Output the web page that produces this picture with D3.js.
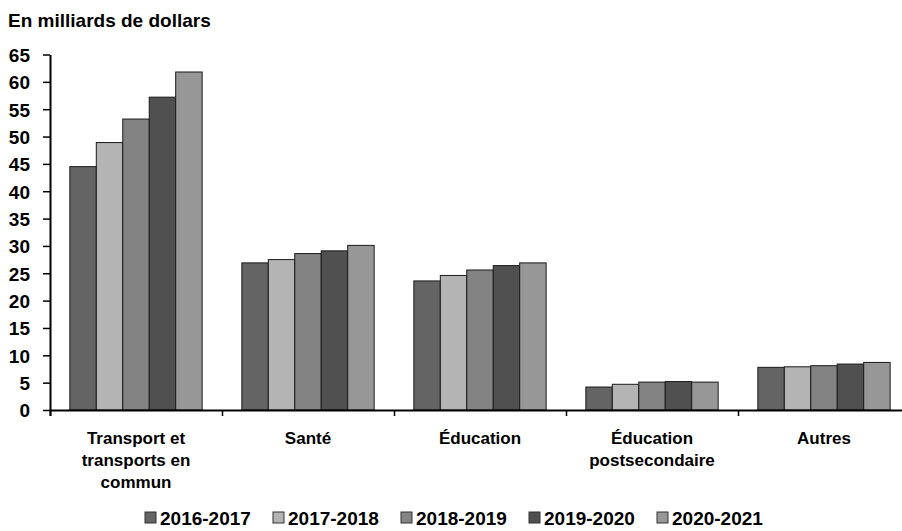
<!DOCTYPE html>
<html><head><meta charset="utf-8">
<script src="https://cdn.jsdelivr.net/npm/d3@7"></script>
<style>
body{margin:0;background:#fff;}
text{font-family:"Liberation Sans",Arial,sans-serif;font-weight:bold;fill:#000;}
</style></head>
<body><svg id="c" width="902" height="531"></svg>
<script>
const categories = [["Transport et","transports en","commun"],["Santé"],["Éducation"],["Éducation","postsecondaire"],["Autres"]];
const series = ["2016-2017","2017-2018","2018-2019","2019-2020","2020-2021"];
const values = [
  [44.5, 26.9, 23.6, 4.2, 7.8],
  [48.9, 27.5, 24.6, 4.7, 7.9],
  [53.2, 28.6, 25.6, 5.1, 8.1],
  [57.2, 29.1, 26.4, 5.2, 8.4],
  [61.8, 30.1, 26.9, 5.1, 8.7]
];
const colors = ["#646464","#b4b4b4","#838383","#505050","#979797"];
const yTicks = d3.range(0, 66, 5);
const yTitle = "En milliards de dollars";

const svg = d3.select("#c");
const x0 = d3.scaleBand().domain(d3.range(categories.length)).range([50, 910]).padding(0);
const x1 = d3.scaleBand().domain(d3.range(series.length)).range([0, x0.bandwidth()]).paddingOuter(0.75).paddingInner(0);
const y = d3.scaleLinear().domain([0, 65]).range([410, 54.5]);

series.forEach((s, si) => {
  svg.append("g").selectAll("rect").data(values[si]).join("rect")
    .attr("x", (d, ci) => x0(ci) + x1(si))
    .attr("y", d => y(d))
    .attr("width", x1.bandwidth())
    .attr("height", d => y(0) - y(d))
    .attr("fill", colors[si])
    .attr("stroke", "#1a1a1a")
    .attr("stroke-width", 1);
});

const yAxis = svg.append("g").attr("transform", "translate(50,0)")
  .call(d3.axisLeft(y).tickValues(yTicks).tickSize(7).tickPadding(13).tickSizeOuter(0));
yAxis.select(".domain").attr("stroke", "#000").attr("stroke-width", 2);
yAxis.selectAll(".tick line").attr("stroke", "#000").attr("stroke-width", 1.5);
yAxis.selectAll(".tick text").style("font-size", "19px").attr("font-family", null).attr("dy", "0.36em");

const xb = d3.scaleLinear().domain([0, categories.length]).range([50, 910]);
const xAxis = svg.append("g").attr("transform", "translate(0,410)")
  .call(d3.axisBottom(xb).tickValues(d3.range(0, categories.length + 1)).tickSize(6).tickFormat(""));
xAxis.select(".domain").attr("stroke", "#000").attr("stroke-width", 2);
xAxis.selectAll(".tick line").attr("stroke", "#000").attr("stroke-width", 1.5);

categories.forEach((lines, ci) => {
  const t = svg.append("text").attr("text-anchor", "middle").style("font-size", "17px");
  lines.forEach((l, li) => {
    t.append("tspan").attr("x", x0(ci) + x0.bandwidth() / 2).attr("y", 443.5 + li * 22).text(l);
  });
});

svg.append("text").attr("x", 8).attr("y", 27).style("font-size", "19px").text(yTitle);

const lg = svg.append("g").attr("transform", "translate(145,0)");
series.forEach((s, si) => {
  const g = lg.append("g").attr("transform", `translate(${si * 128},0)`);
  g.append("rect").attr("x", 0).attr("y", 512).attr("width", 11).attr("height", 11)
    .attr("fill", colors[si]).attr("stroke", "#333").attr("stroke-width", 1);
  g.append("text").attr("x", 15).attr("y", 525).style("font-size", "19px").text(s);
});
</script></body></html>
